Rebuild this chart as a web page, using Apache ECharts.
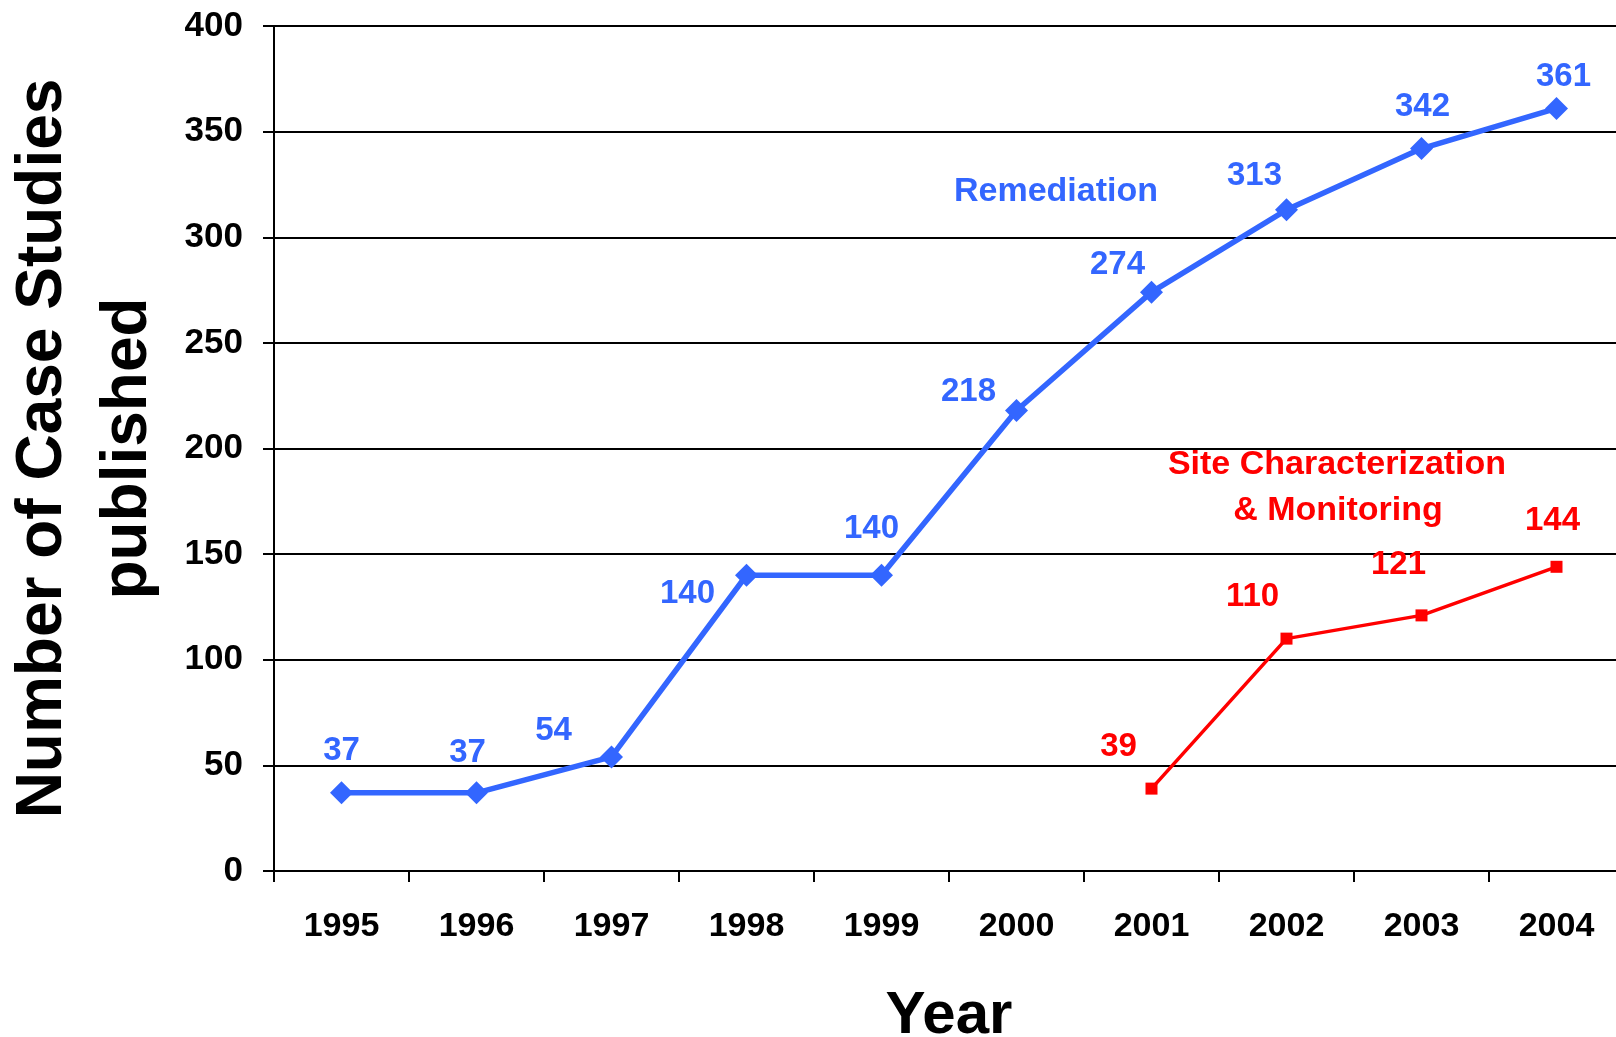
<!DOCTYPE html>
<html>
<head>
<meta charset="utf-8">
<script src="https://cdn.jsdelivr.net/npm/echarts@6/dist/echarts.min.js"></script>
<style>
html,body{margin:0;padding:0;background:#fff;}
#chart{width:1616px;height:1037px;}
</style>
</head>
<body>
<div id="chart"></div>
<script>
// ---- data ----
var years = ['1995','1996','1997','1998','1999','2000','2001','2002','2003','2004'];
var remediation = [37, 37, 54, 140, 140, 218, 274, 313, 342, 361];
var siteCharacterization = [null, null, null, null, null, null, 39, 110, 121, 144];
var yTicks = [0, 50, 100, 150, 200, 250, 300, 350, 400];

// ---- label placement (styling, not data) ----
var blueLabelOffsets = [[0,-42],[-9,-40],[-58,-26],[-59,19],[-10,-46],[-48,-19],[-34,-27],[-32,-34],[1,-42],[7,-31]];
var redLabelOffsets = [null,null,null,null,null,null,[-33,-42],[-34,-42],[-23,-50],[-4,-46]];

var FONT = '"Liberation Sans", Arial, Helvetica, sans-serif';
var BLUE = '#3366FF';
var RED = '#FF0000';

function withLabels(values, offsets, color) {
  return values.map(function (v, i) {
    if (v === null) return null;
    return {
      value: v,
      label: {
        show: true,
        position: 'inside',
        offset: offsets[i],
        color: color,
        fontFamily: FONT,
        fontWeight: 'bold',
        fontSize: 33,
        align: 'center',
        verticalAlign: 'middle'
      }
    };
  });
}

var chart = echarts.init(document.getElementById('chart'), null, {renderer: 'canvas'});
chart.setOption({
  animation: false,
  backgroundColor: '#ffffff',
  grid: {left: 274, top: 26, bottom: 166, right: -8, containLabel: false, outerBoundsMode: 'none'},
  xAxis: {
    type: 'category',
    data: years,
    boundaryGap: true,
    name: 'Year',
    nameLocation: 'middle',
    nameGap: 115,
    nameTextStyle: {fontFamily: FONT, fontWeight: 'bold', fontSize: 60, color: '#000'},
    axisLine: {lineStyle: {color: '#000', width: 2}},
    axisTick: {show: true, length: 11, lineStyle: {color: '#000', width: 2}},
    axisLabel: {margin: 39, fontFamily: FONT, fontWeight: 'bold', fontSize: 34, color: '#000'},
    splitLine: {show: false}
  },
  yAxis: {
    type: 'value',
    min: yTicks[0],
    max: yTicks[yTicks.length - 1],
    interval: yTicks[1] - yTicks[0],
    name: 'Number of Case Studies\npublished',
    nameLocation: 'middle',
    nameRotate: 90,
    nameGap: 103,
    nameTextStyle: {fontFamily: FONT, fontWeight: 'bold', fontSize: 64, lineHeight: 85, color: '#000', align: 'center'},
    axisLine: {show: true, lineStyle: {color: '#000', width: 2}},
    axisTick: {show: true, length: 11, lineStyle: {color: '#000', width: 2}},
    axisLabel: {margin: 31, fontFamily: FONT, fontWeight: 'bold', fontSize: 35, color: '#000'},
    splitLine: {show: true, lineStyle: {color: '#000', width: 2}}
  },
  series: [
    {
      name: 'Remediation',
      type: 'line',
      data: withLabels(remediation, blueLabelOffsets, BLUE),
      symbol: 'diamond',
      symbolSize: 23,
      itemStyle: {color: BLUE},
      lineStyle: {color: BLUE, width: 5.5},
      z: 3
    },
    {
      name: 'Site Characterization & Monitoring',
      type: 'line',
      data: withLabels(siteCharacterization, redLabelOffsets, RED),
      symbol: 'rect',
      symbolSize: 12,
      itemStyle: {color: RED},
      lineStyle: {color: RED, width: 3.5},
      z: 3
    }
  ],
  graphic: [
    {type: 'text', x: 1056, y: 192, style: {text: 'Remediation', fill: BLUE, font: 'bold 34px ' + FONT, textAlign: 'center', textVerticalAlign: 'middle'}},
    {type: 'text', x: 1337, y: 465, style: {text: 'Site Characterization', fill: RED, font: 'bold 34px ' + FONT, textAlign: 'center', textVerticalAlign: 'middle'}},
    {type: 'text', x: 1338, y: 511, style: {text: '& Monitoring', fill: RED, font: 'bold 34px ' + FONT, textAlign: 'center', textVerticalAlign: 'middle'}}
  ]
});
</script>
</body>
</html>
